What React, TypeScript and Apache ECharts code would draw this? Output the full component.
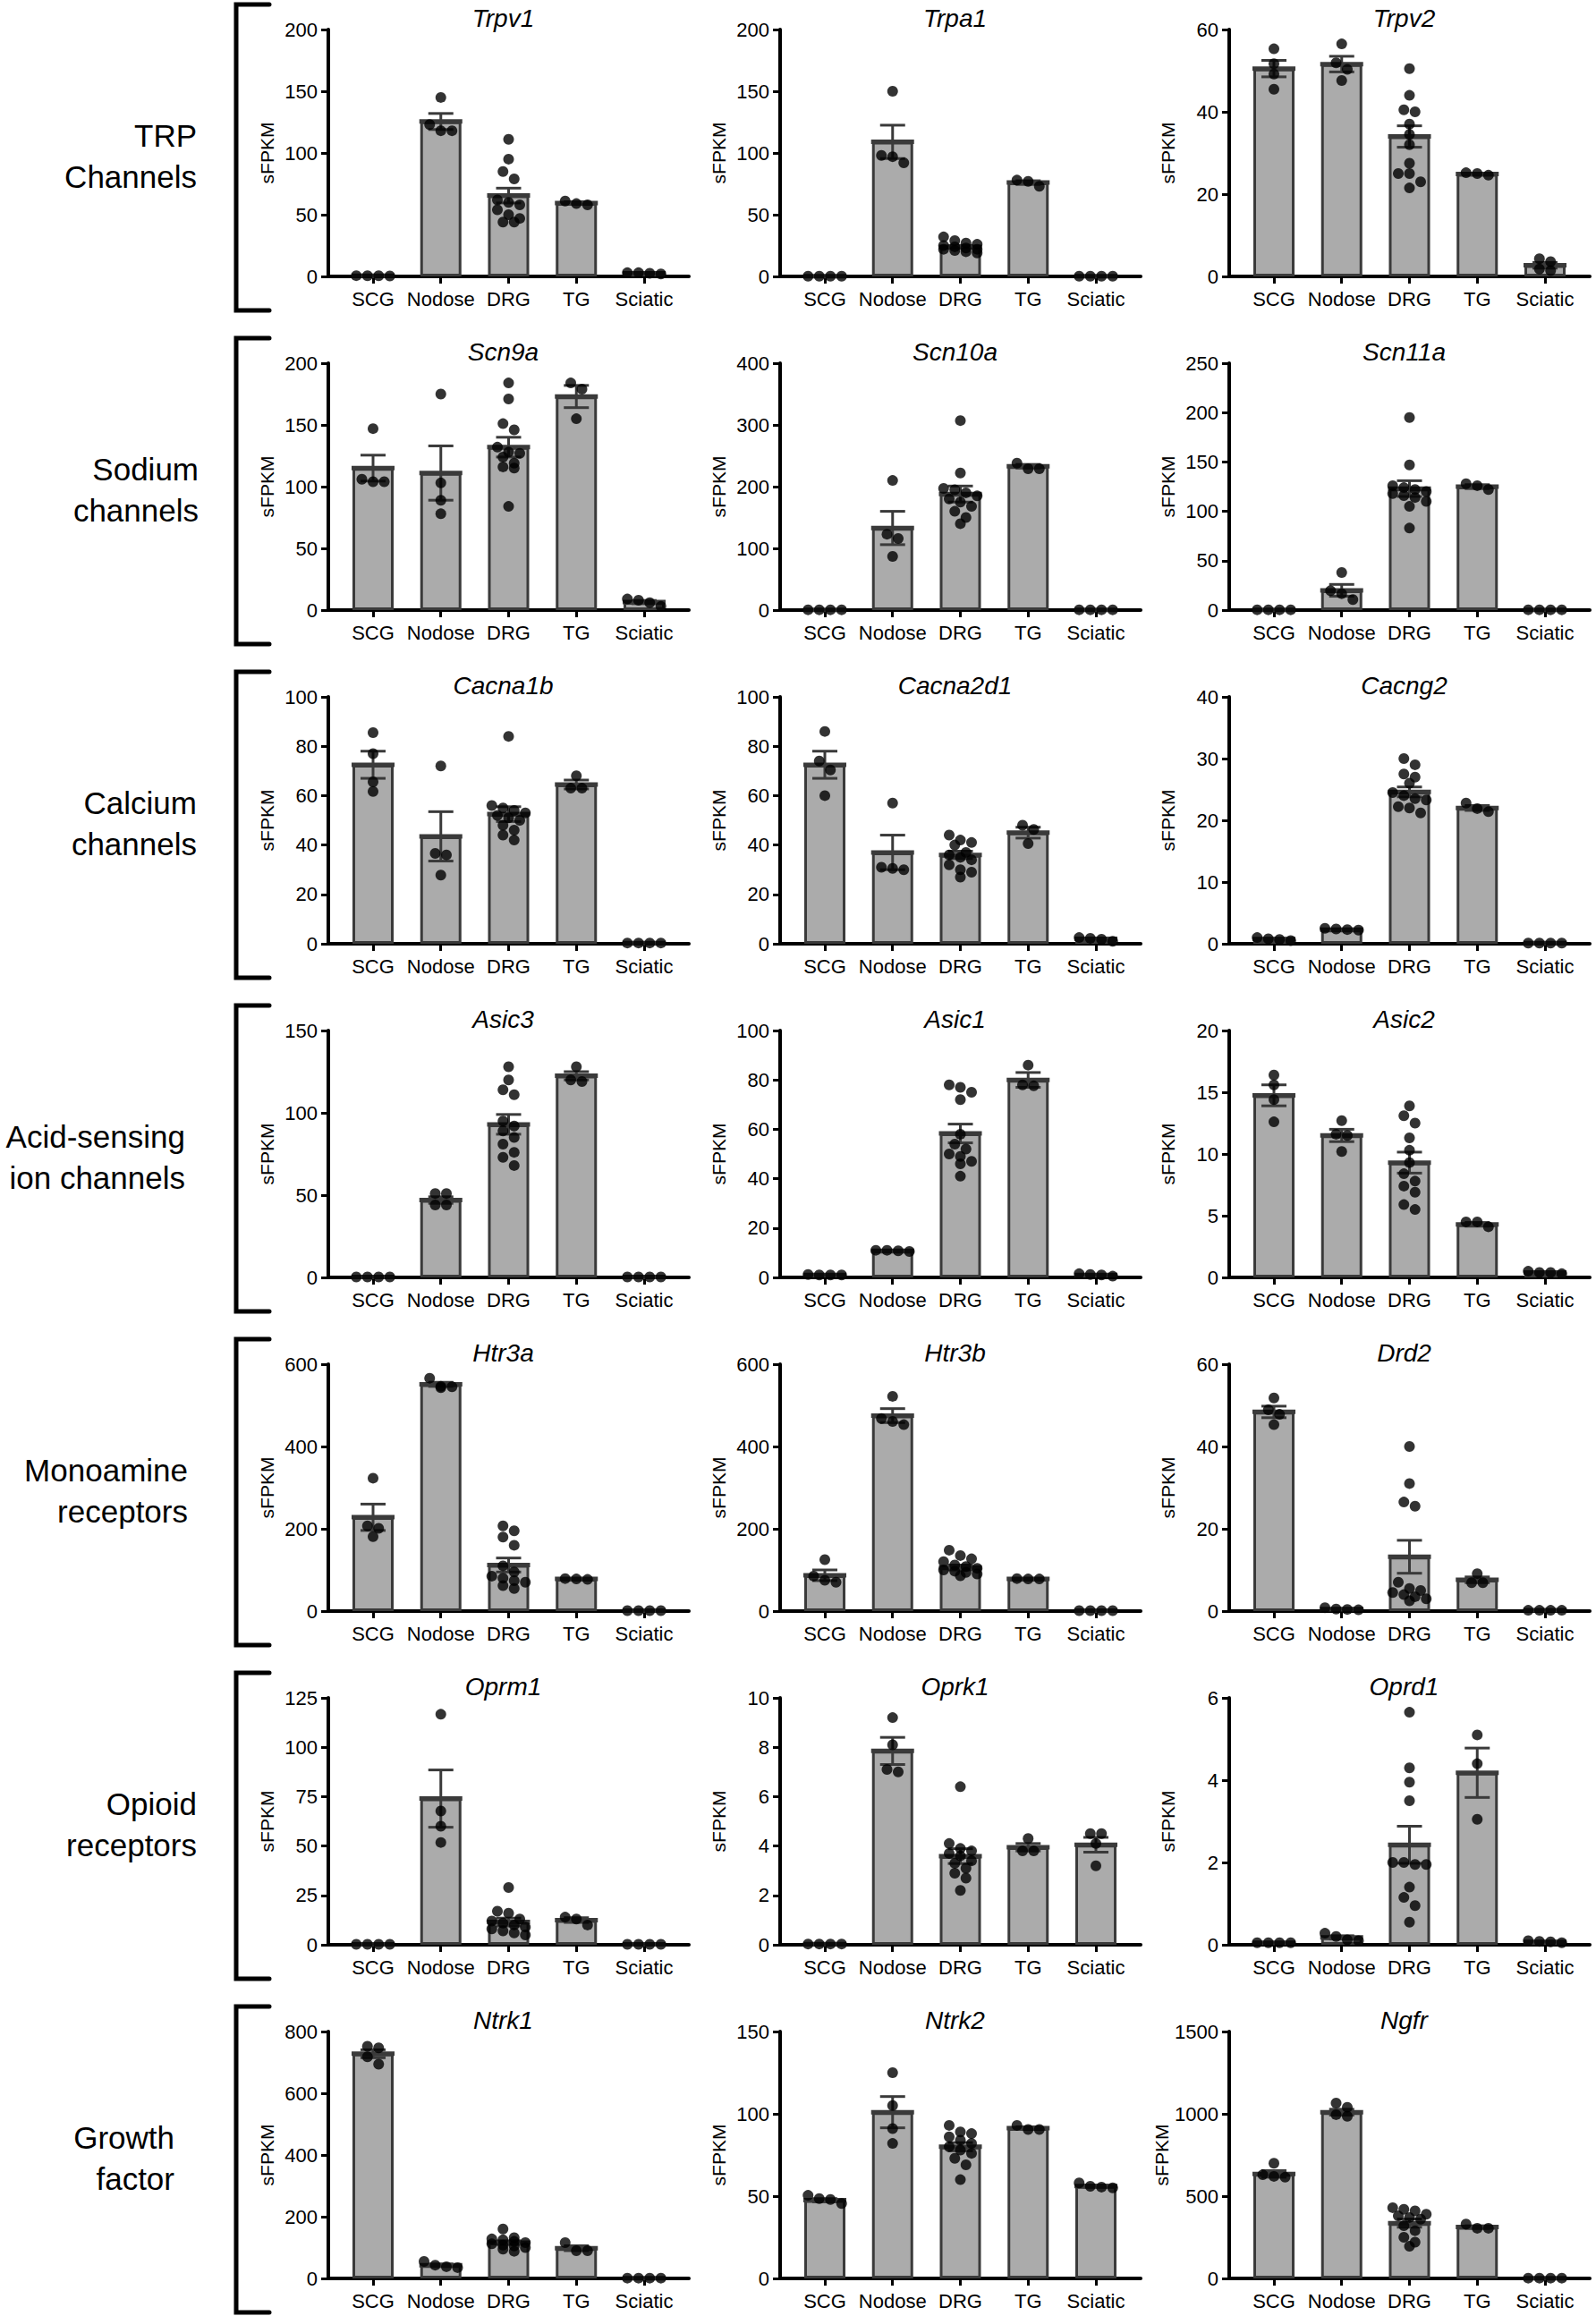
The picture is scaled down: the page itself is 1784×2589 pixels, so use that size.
import React, { useEffect, useRef } from "react";
import * as echarts from "echarts";

const CATS = ["SCG", "Nodose", "DRG", "TG", "Sciatic"];
const ROW_LABELS = [
  "TRP\nChannels",
  "Sodium\nchannels",
  "Calcium\nchannels",
  "Acid-sensing\nion channels",
  "Monoamine\nreceptors",
  "Opioid\nreceptors",
  "Growth\nfactor",
];
const GENES = [
  "Trpv1", "Trpa1", "Trpv2",
  "Scn9a", "Scn10a", "Scn11a",
  "Cacna1b", "Cacna2d1", "Cacng2",
  "Asic3", "Asic1", "Asic2",
  "Htr3a", "Htr3b", "Drd2",
  "Oprm1", "Oprk1", "Oprd1",
  "Ntrk1", "Ntrk2", "Ngfr",
];
const Y_MAX = [200, 200, 60, 200, 400, 250, 100, 100, 40, 150, 100, 20, 600, 600, 60, 125, 10, 6, 800, 150, 1500];
const Y_STEP = [50, 50, 20, 50, 100, 50, 20, 20, 10, 50, 20, 5, 200, 200, 20, 25, 2, 2, 200, 50, 500];

// ---- data: dots per group (SCG, Nodose, DRG, TG, Sciatic), means, SEMs ----
const trpv1Dots = [[0.5, 0.6, 0.4, 0.5], [145, 118, 123, 118], [111, 95, 85, 79, 62, 60, 58, 54, 50, 47, 44, 44], [58, 61, 59], [2, 3, 3, 2.5]];
const trpv1Mean = [0.5, 125.5, 65.5, 59.5, 2.5];
const trpv1Sem = [0, 6.5, 6, 1, 0.3];

const trpa1Dots = [[0.2, 0.2, 0.2, 0.2], [150, 92, 97, 98], [32, 29, 27, 26, 25, 24, 23, 22, 22, 21, 20, 19], [73, 78, 77], [0.2, 0.2, 0.2, 0.2]];
const trpa1Mean = [0.2, 109, 24, 76, 0.2];
const trpa1Sem = [0, 13.5, 1.1, 1.5, 0];

const trpv2Dots = [[55.3, 51.7, 49.2, 45.5], [56.5, 51.9, 50.3, 47.6], [50.5, 44, 40.5, 40, 37, 34.5, 32, 27.5, 25, 25, 23, 21.5], [24.6, 25, 25.2], [4.3, 3.6, 1.8, 1.4]];
const trpv2Mean = [50.5, 51.6, 34, 24.9, 2.7];
const trpv2Sem = [2, 1.9, 2.6, 0.2, 0.7];

const scn9aDots = [[147, 104, 106, 104], [175, 103, 89, 78], [184, 171, 151, 146, 132, 128, 127, 124, 119, 116, 115, 84], [184, 179, 155], [3, 8, 6, 9]];
const scn9aMean = [115, 111, 132, 173, 6.5];
const scn9aSem = [10.5, 22, 8, 9, 1.3];

const scn10aDots = [[0.5, 0.5, 0.5, 0.5], [210, 123, 116, 87], [307, 222, 197, 195, 190, 185, 180, 175, 168, 160, 150, 140], [238, 229, 229], [0.5, 0.5, 0.5, 0.5]];
const scn10aMean = [0.5, 133, 188, 233, 0.5];
const scn10aSem = [0, 27, 13, 3, 0];

const scn11aDots = [[0.3, 0.3, 0.3, 0.3], [38, 19.6, 16.6, 10.6], [195, 147, 126, 124, 122, 120, 118, 116, 114, 110, 105, 83], [122, 128, 126], [0.3, 0.3, 0.3, 0.3]];
const scn11aMean = [0.3, 20, 123, 125, 0.3];
const scn11aSem = [0, 6, 8, 2, 0];

const cacna1bDots = [[85.5, 77, 65.6, 61.7], [72, 36.6, 36, 27.8], [84, 56, 55, 54, 53, 52, 51, 50, 48, 46, 44, 42], [68, 63, 63], [0.3, 0.3, 0.3, 0.3]];
const cacna1bMean = [72.5, 43.5, 52.5, 64.5, 0.3];
const cacna1bSem = [5.5, 10, 3, 1.8, 0];

const cacna2d1Dots = [[86, 74, 70.4, 60], [57, 30.5, 30, 31], [44, 42, 41, 40, 37, 36, 35, 34, 32, 30, 29, 27], [48, 46.3, 40.6], [1, 2.5, 1.8, 2.2]];
const cacna2d1Mean = [72.5, 37, 36, 45, 2];
const cacna2d1Sem = [5.5, 7, 1.5, 2.2, 0.3];

const cacng2Dots = [[0.5, 0.8, 1, 0.7], [2.2, 2.5, 2.3, 2.4], [30, 29, 27.5, 27, 26, 24.5, 23.5, 24, 23.3, 22.2, 22, 21.2], [22.8, 21.9, 21.4], [0.1, 0.1, 0.1, 0.1]];
const cacng2Mean = [0.75, 2.3, 24.6, 22, 0.1];
const cacng2Sem = [0.1, 0.1, 0.8, 0.4, 0];

const asic3Dots = [[0.3, 0.3, 0.3, 0.3], [51, 44, 51, 44], [128, 120, 114, 111, 95, 92, 89, 85, 81, 76, 73, 68], [128, 120, 119], [0.3, 0.3, 0.3, 0.3]];
const asic3Mean = [0.3, 47, 93, 122.5, 0.3];
const asic3Sem = [0, 2, 6, 2.5, 0];

const asic1Dots = [[1, 1, 1.2, 1], [10.5, 11, 11, 10.8], [78, 77, 75, 72, 58, 54, 52, 50, 49, 47, 46, 41], [86, 78, 77.6], [0.5, 1.5, 1, 1.2]];
const asic1Mean = [1, 10.8, 58.3, 80, 1];
const asic1Sem = [0.1, 0.2, 3.8, 3, 0.2];

const asic2Dots = [[16.4, 15.6, 14.4, 12.6], [12.7, 11.6, 11.5, 10.2], [13.9, 13.1, 12.5, 11.3, 10.3, 9.3, 8.4, 7.8, 7.4, 6.9, 5.9, 5.5], [4.1, 4.5, 4.5], [0.3, 0.4, 0.5, 0.4]];
const asic2Mean = [14.75, 11.5, 9.3, 4.3, 0.4];
const asic2Sem = [0.85, 0.5, 0.85, 0.15, 0.05];

const htr3aDots = [[323, 207, 201, 181], [566, 545, 546, 543], [207, 195, 180, 160, 110, 95, 85, 80, 74, 70, 62, 55], [78, 79, 77], [1, 1, 1, 1]];
const htr3aMean = [228, 551, 112, 78, 1];
const htr3aSem = [32, 5, 17, 1, 0];

const htr3bDots = [[125, 85, 75, 70], [522, 468, 461, 453], [148, 135, 127, 120, 112, 108, 104, 100, 97, 94, 90, 86], [78, 79, 78], [1, 1, 1, 1]];
const htr3bMean = [87, 475, 106, 78, 1];
const htr3bSem = [13, 17, 6, 1, 0];

const drd2Dots = [[51.8, 48.9, 47.8, 45.3], [0.5, 0.8, 0.3, 0.4], [40, 31, 26.5, 25.5, 7, 5.5, 5, 4.5, 4, 3.5, 3, 2.5], [9.1, 6.9, 6.9], [0.2, 0.2, 0.2, 0.2]];
const drd2Mean = [48.4, 0.5, 13.2, 7.6, 0.2];
const drd2Sem = [1.4, 0.1, 4, 0.7, 0];

const oprm1Dots = [[0.2, 0.2, 0.2, 0.2], [116.7, 67.7, 60, 51.8], [29, 17, 16, 13, 12, 11, 10, 9, 8, 7, 6, 5], [10, 13, 14], [0.2, 0.2, 0.2, 0.2]];
const oprm1Mean = [0.2, 74, 11.5, 12.5, 0.2];
const oprm1Sem = [0, 14.5, 2, 1.2, 0];

const oprk1Dots = [[0.03, 0.03, 0.03, 0.03], [9.2, 8.1, 7.1, 7.0], [6.4, 4.1, 3.9, 3.8, 3.7, 3.6, 3.4, 3.3, 3.1, 2.9, 2.7, 2.2], [4.3, 3.8, 3.8], [4.5, 4.5, 4.1, 3.2]];
const oprk1Mean = [0.03, 7.85, 3.59, 3.95, 4.05];
const oprk1Sem = [0, 0.55, 0.3, 0.15, 0.3];

const oprd1Dots = [[0.05, 0.05, 0.05, 0.05], [0.1, 0.28, 0.2, 0.12], [5.65, 4.3, 3.95, 3.5, 2, 2, 1.95, 1.95, 1.4, 1.15, 0.95, 0.55], [5.1, 4.4, 3.05], [0.07, 0.1, 0.08, 0.05]];
const oprd1Mean = [0.05, 0.18, 2.43, 4.18, 0.07];
const oprd1Sem = [0, 0.04, 0.45, 0.6, 0.01];

const ntrk1Dots = [[752, 747, 718, 694], [55, 38, 35, 43], [160, 132, 128, 125, 120, 116, 112, 108, 105, 100, 95, 88], [116, 90, 90], [1, 1, 1, 1]];
const ntrk1Mean = [728, 43, 116, 98, 1];
const ntrk1Sem = [13, 4, 6, 8, 0];

const ntrk2Dots = [[50.5, 48, 48.5, 45.5], [125, 105, 91, 82], [93, 89, 88, 86, 84, 82, 80, 78, 76, 73, 69, 60], [93, 90.5, 90.5], [58, 56, 55.5, 55]];
const ntrk2Mean = [47.5, 101, 80, 91.3, 56.1];
const ntrk2Sem = [1, 9.5, 2.5, 0.8, 0.6];

const ngfrDots = [[700, 630, 615, 620], [1065, 1040, 995, 985], [430, 420, 410, 390, 380, 370, 360, 320, 290, 250, 220, 195], [330, 305, 305], [2, 2, 2, 2]];
const ngfrMean = [635, 1010, 336, 312, 2];
const ngfrSem = [20, 18, 25, 8, 0];

const PANEL_DOTS = [trpv1Dots, trpa1Dots, trpv2Dots, scn9aDots, scn10aDots, scn11aDots, cacna1bDots, cacna2d1Dots, cacng2Dots, asic3Dots, asic1Dots, asic2Dots, htr3aDots, htr3bDots, drd2Dots, oprm1Dots, oprk1Dots, oprd1Dots, ntrk1Dots, ntrk2Dots, ngfrDots];
const PANEL_MEAN = [trpv1Mean, trpa1Mean, trpv2Mean, scn9aMean, scn10aMean, scn11aMean, cacna1bMean, cacna2d1Mean, cacng2Mean, asic3Mean, asic1Mean, asic2Mean, htr3aMean, htr3bMean, drd2Mean, oprm1Mean, oprk1Mean, oprd1Mean, ntrk1Mean, ntrk2Mean, ngfrMean];
const PANEL_SEM = [trpv1Sem, trpa1Sem, trpv2Sem, scn9aSem, scn10aSem, scn11aSem, cacna1bSem, cacna2d1Sem, cacng2Sem, asic3Sem, asic1Sem, asic2Sem, htr3aSem, htr3bSem, drd2Sem, oprm1Sem, oprk1Sem, oprd1Sem, ntrk1Sem, ntrk2Sem, ngfrSem];

// ---- layout ----
const COL_LEFT = [367, 872, 1374];
const ROW_TOP0 = 33;
const ROW_PITCH = 373;
const PLOT_W = 403;
const PLOT_H = 276;
const X_MIN = -0.66;
const X_MAX = 4.66;
const LABEL_RIGHT = [220, 222, 220, 207, 210, 220, 195];
const FONT = "'Liberation Sans', Arial, Helvetica, sans-serif";

function swarmOffsets(vals: number[], yMax: number): number[] {
  const pxPerUnit = PLOT_H / yMax;
  const D = 12.5;
  const xUnit = (X_MAX - X_MIN) / PLOT_W;
  const idx = vals.map((_, i) => i).sort((a, b) => vals[b] - vals[a]);
  const rows: number[][] = [];
  let cur: number[] = [];
  let startV = 0;
  for (const i of idx) {
    const v = vals[i];
    if (cur.length && (startV - v) * pxPerUnit < D * 0.8 && cur.length < 4) {
      cur.push(i);
    } else {
      if (cur.length) rows.push(cur);
      cur = [i];
      startV = v;
    }
  }
  if (cur.length) rows.push(cur);
  const off = new Array(vals.length).fill(0);
  for (const row of rows) {
    const k = row.length;
    row.forEach((i, j) => {
      off[i] = (j - (k - 1) / 2) * D * xUnit;
    });
  }
  return off;
}

function buildOption() {
  const grid: any[] = [];
  const xAxis: any[] = [];
  const yAxis: any[] = [];
  const series: any[] = [];
  const graphic: any[] = [];

  GENES.forEach((gene, p) => {
    const r = Math.floor(p / 3);
    const c = p % 3;
    const left = COL_LEFT[c];
    const top = ROW_TOP0 + r * ROW_PITCH;
    grid.push({ left, top, width: PLOT_W, height: PLOT_H, containLabel: false });
    xAxis.push({
      type: "value",
      gridIndex: p,
      min: X_MIN,
      max: X_MAX,
      splitLine: { show: false },
      axisLine: { show: true, onZero: false, lineStyle: { color: "#000", width: 4 } },
      axisTick: { show: true, customValues: [0, 1, 2, 3, 4], length: 8, lineStyle: { color: "#000", width: 3 } },
      axisLabel: {
        show: true,
        customValues: [0, 1, 2, 3, 4],
        formatter: (v: number) => CATS[Math.round(v)] ?? "",
        color: "#000",
        fontSize: 22,
        fontFamily: FONT,
        margin: 14,
      },
    });
    yAxis.push({
      type: "value",
      gridIndex: p,
      min: 0,
      max: Y_MAX[p],
      interval: Y_STEP[p],
      name: "sFPKM",
      nameLocation: "middle",
      nameGap: 58,
      nameRotate: 90,
      nameTextStyle: { color: "#000", fontSize: 21, fontFamily: FONT },
      splitLine: { show: false },
      axisLine: { show: true, onZero: false, lineStyle: { color: "#000", width: 4 } },
      axisTick: { show: true, length: 8, lineStyle: { color: "#000", width: 3 } },
      axisLabel: {
        color: "#000",
        fontSize: 22,
        fontFamily: FONT,
        margin: 12,
        formatter: (v: number) => String(v),
      },
    });

    const means = PANEL_MEAN[p];
    const sems = PANEL_SEM[p];
    const dots = PANEL_DOTS[p];

    series.push({
      type: "bar",
      xAxisIndex: p,
      yAxisIndex: p,
      barWidth: 46,
      z: 2,
      itemStyle: { color: "#ababab", borderColor: "#3a3a3a", borderWidth: 3 },
      data: means.map((m, i) => [i, m]),
    });

    series.push({
      type: "custom",
      xAxisIndex: p,
      yAxisIndex: p,
      z: 3,
      data: means.map((m, i) => [i, m, sems[i]]),
      renderItem: (_params: any, api: any) => {
        const x = api.value(0);
        const m = api.value(1);
        const s = api.value(2);
        const pm = api.coord([x, m]);
        const pt = api.coord([x, m + s]);
        const pb = api.coord([x, Math.max(m - s, 0)]);
        const st = { stroke: "#3a3a3a", lineWidth: 3 };
        const children: any[] = [];
        if (s > 0) {
          children.push({ type: "line", shape: { x1: pm[0], y1: pt[1], x2: pm[0], y2: pb[1] }, style: st });
          children.push({ type: "line", shape: { x1: pm[0] - 14, y1: pt[1], x2: pm[0] + 14, y2: pt[1] }, style: st });
          children.push({ type: "line", shape: { x1: pm[0] - 14, y1: pb[1], x2: pm[0] + 14, y2: pb[1] }, style: st });
        }
        children.push({
          type: "line",
          shape: { x1: pm[0] - 24, y1: pm[1], x2: pm[0] + 24, y2: pm[1] },
          style: { stroke: "#3a3a3a", lineWidth: 5 },
        });
        return { type: "group", children };
      },
    });

    const pts: number[][] = [];
    dots.forEach((g, i) => {
      const off = swarmOffsets(g, Y_MAX[p]);
      g.forEach((v, j) => pts.push([i + off[j], v]));
    });
    series.push({
      type: "scatter",
      xAxisIndex: p,
      yAxisIndex: p,
      z: 4,
      symbol: "circle",
      symbolSize: 12,
      itemStyle: { color: "#000" },
      data: pts,
    });

    graphic.push({
      type: "text",
      x: left + PLOT_W / 2 - 6,
      y: top - 13,
      style: {
        text: gene,
        fontSize: 28,
        fontStyle: "italic",
        fontFamily: FONT,
        fill: "#000",
        align: "center",
        verticalAlign: "middle",
      },
    });
  });

  ROW_LABELS.forEach((lab, r) => {
    const top = ROW_TOP0 + r * ROW_PITCH;
    const bTop = top - 28;
    const bBot = top + PLOT_H + 38;
    graphic.push({
      type: "polyline",
      shape: { points: [[301, bTop], [264, bTop], [264, bBot], [301, bBot]] },
      style: { stroke: "#000", lineWidth: 5, fill: null, lineCap: "round", lineJoin: "miter" },
    });
    graphic.push({
      type: "text",
      x: LABEL_RIGHT[r],
      y: top + PLOT_H / 2 + 3,
      style: {
        text: lab,
        fontSize: 35,
        fontFamily: FONT,
        fill: "#000",
        align: "right",
        verticalAlign: "middle",
        lineHeight: 46,
      },
    });
  });

  return {
    animation: false,
    backgroundColor: "#ffffff",
    grid,
    xAxis,
    yAxis,
    series,
    graphic,
  };
}

export default function App() {
  const ref = useRef<HTMLDivElement>(null);
  useEffect(() => {
    if (!ref.current) return;
    const chart = echarts.init(ref.current, undefined, { renderer: "svg" });
    chart.setOption(buildOption() as any);
    return () => chart.dispose();
  }, []);
  return (
    <div
      ref={ref}
      style={{ position: "absolute", left: 0, top: 0, width: 1784, height: 2589, background: "#fff" }}
    />
  );
}
